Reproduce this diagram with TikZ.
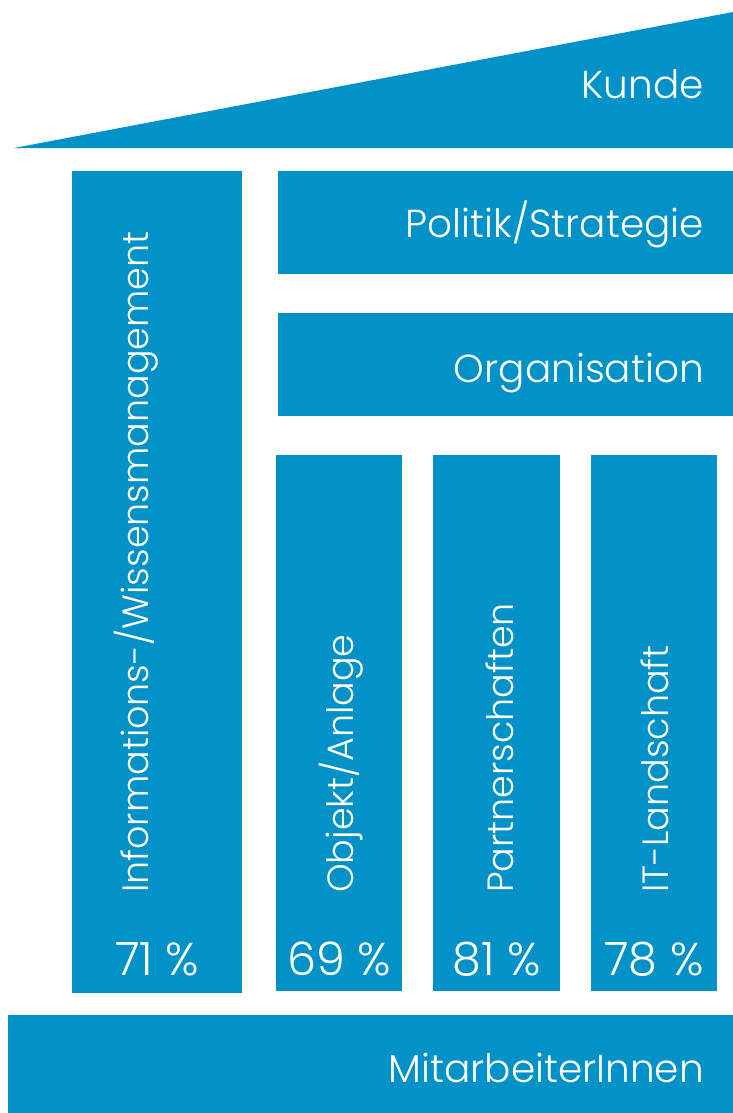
\documentclass[tikz,border=0pt]{standalone}
\usepackage{fontspec}
\setmainfont{Poppins Light}
\usetikzlibrary{positioning}
\definecolor{hausblau}{RGB}{3,146,200}

\tikzset{
  block/.style={fill=hausblau},
  lbl/.style={text=white,font=\fontsize{39}{46}\selectfont,inner sep=0pt},
  vlbl/.style={lbl,font=\fontsize{36.5}{44}\selectfont,rotate=90,anchor=base west},
  pct/.style={lbl,font=\fontsize{46}{54}\selectfont,anchor=base},
}

\begin{document}
\begin{tikzpicture}[x=1pt,y=-1pt]
\useasboundingbox (0,0) rectangle (733,1113);

% Roof
\fill[block] (14,148) -- (733,12) -- (733,148) -- cycle;
\node[lbl,anchor=base east] (kunde) at (704,99) {Kunde};

% Beams
\fill[block] (278,171) rectangle (733,274);
\node[lbl,anchor=base east] (politik) at (704,237) {Politik/Strategie};
\fill[block] (278,313) rectangle (733,416);
\node[lbl,anchor=base east] (orga) at (704,382) {Organisation};

% Pillars
\fill[block] (72,171) rectangle (242,993);
\node[vlbl] (wissen) at (148,893) {Informations-/Wissensmanagement};
\node[pct] (pwissen) at (157,975) {71 \%};

\fill[block] (276,455) rectangle (402,991);
\node[vlbl] (objekt) at (353,893) {Objekt/Anlage};
\node[pct] (pobjekt) at (339,975) {69 \%};

\fill[block] (433,455) rectangle (560,991);
\node[vlbl] (partner) at (513,893) {Partnerschaften};
\node[pct] (ppartner) at (496.5,975) {81 \%};

\fill[block] (591,455) rectangle (717,991);
\node[vlbl] (it) at (668,893) {IT-Landschaft};
\node[pct] (pit) at (654,975) {78 \%};

% Foundation
\fill[block] (8,1015) rectangle (733,1113);
\node[lbl,anchor=base east] (mitarbeiter) at (704,1082) {MitarbeiterInnen};
\end{tikzpicture}
\end{document}
